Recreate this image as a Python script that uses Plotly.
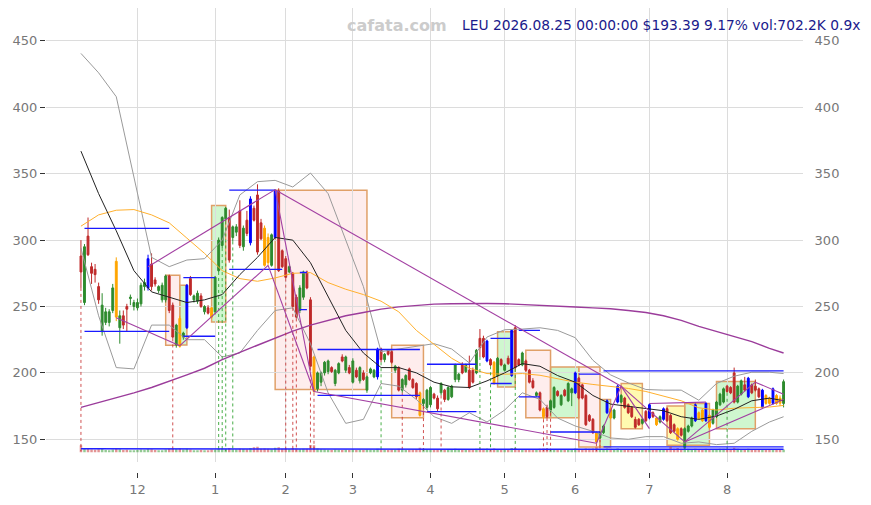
import pandas as pd
import plotly.graph_objects as go

# trading days Nov 6 2025 .. Aug 25 2026 (US market holidays removed)
holidays = ["2025-11-27", "2025-12-25", "2026-01-01", "2026-01-19", "2026-02-16",
            "2026-04-03", "2026-05-25", "2026-06-19", "2026-07-03"]
dates = [d.strftime("%Y-%m-%d") for d in pd.bdate_range("2025-11-06", "2026-08-25")
         if d.strftime("%Y-%m-%d") not in holidays]
month_labels = ["12", "1", "2", "3", "4", "5", "6", "7", "8"]

open_ = [288, 253, 303, 280, 278, 265, 231, 238, 238, 247,
         284, 234, 243, 250, 256, 250, 249, 252, 265, 264,
         282, 270, 262, 255, 255, 273, 251, 221, 241, 227,
         234, 271, 255, 254, 258, 246, 249, 249, 246, 277,
         296, 316, 317, 302, 306, 322, 295, 315, 298, 324,
         334, 313, 309, 302, 281, 302, 337, 292, 286, 276,
         275, 257, 247, 257, 276, 255, 212, 188, 193, 200,
         201, 204, 192, 200, 212, 202, 204, 193, 202, 194,
         200, 187, 200, 197, 197, 218, 210, 217, 216, 202,
         204, 187, 191, 203, 195, 192, 185, 177, 174, 176,
         184, 181, 185, 187, 180, 182, 195, 195, 206, 201,
         202, 202, 200, 226, 226, 209, 210, 208, 198, 210,
         202, 211, 198, 234, 210, 206, 209, 202, 194, 183,
         185, 173, 174, 172, 174, 186, 176, 187, 179, 185,
         185, 196, 191, 183, 168, 165, 155, 151, 155, 170,
         173, 166, 178, 178, 181, 176, 174, 165, 165, 162,
         171, 166, 170, 166, 163, 165, 173, 168, 161, 158,
         158, 144, 156, 160, 164, 170, 172, 164, 168, 162,
         167, 176, 178, 190, 189, 200, 178, 184, 191, 182,
         191, 190, 188, 174, 183, 181, 177, 183, 181, 177]
high = [300, 297, 317, 283, 282, 268, 260, 249, 248, 267,
        287, 247, 247, 252, 259, 255, 256, 268, 271, 289,
        290, 272, 266, 268, 274, 274, 253, 237, 243, 231,
        267, 273, 259, 262, 260, 251, 251, 250, 273, 302,
        318, 325, 323, 311, 312, 330, 311, 322, 333, 326,
        342, 316, 311, 305, 305, 338, 339, 293, 288, 281,
        276, 259, 266, 277, 277, 257, 213, 201, 201, 209,
        210, 205, 203, 208, 214, 213, 206, 211, 204, 205,
        202, 198, 204, 203, 219, 219, 215, 218, 217, 206,
        205, 196, 199, 204, 196, 193, 186, 181, 188, 190,
        185, 183, 193, 188, 190, 191, 207, 200, 208, 207,
        213, 204, 218, 233, 228, 225, 211, 209, 212, 211,
        207, 213, 233, 236, 211, 216, 210, 203, 196, 186,
        186, 174, 176, 180, 190, 187, 184, 188, 193, 189,
        201, 197, 192, 184, 169, 166, 156, 156, 161, 180,
        174, 173, 191, 184, 182, 177, 175, 167, 166, 166,
        172, 177, 171, 167, 168, 174, 174, 169, 162, 159,
        159, 159, 161, 167, 177, 171, 173, 178, 169, 173,
        179, 185, 189, 191, 190, 204, 191, 195, 197, 197,
        192, 195, 189, 188, 184, 182, 189, 184, 183, 195]
low = [264, 251, 288, 267, 268, 252, 228, 236, 235, 245,
       239, 222, 233, 231, 251, 247, 247, 250, 262, 262,
       262, 265, 260, 253, 253, 245, 226, 219, 219, 225,
       233, 258, 253, 252, 249, 244, 244, 241, 244, 276,
       294, 314, 283, 299, 303, 294, 292, 303, 296, 314,
       289, 300, 280, 281, 280, 301, 276, 279, 271, 275,
       249, 241, 245, 255, 263, 204, 185, 186, 190, 198,
       199, 200, 190, 199, 208, 200, 199, 192, 196, 192,
       194, 185, 199, 196, 195, 208, 208, 213, 207, 200,
       186, 185, 189, 194, 188, 180, 167, 175, 172, 174,
       180, 171, 183, 178, 179, 181, 193, 193, 199, 200,
       188, 192, 199, 212, 211, 208, 205, 191, 197, 205,
       201, 206, 197, 203, 205, 205, 201, 192, 188, 182,
       171, 165, 166, 170, 173, 182, 175, 182, 178, 175,
       184, 180, 180, 160, 163, 154, 147, 150, 154, 169,
       165, 165, 177, 177, 173, 169, 166, 158, 160, 161,
       163, 165, 166, 160, 162, 164, 163, 154, 155, 149,
       152, 142, 155, 159, 163, 165, 163, 163, 158, 161,
       166, 175, 177, 185, 184, 177, 177, 183, 186, 181,
       184, 186, 181, 173, 176, 176, 176, 176, 175, 174]
close = [276, 295, 289, 275, 274, 255, 251, 246, 246, 264,
         242, 243, 236, 248, 257, 253, 253, 266, 268, 286,
         265, 267, 265, 266, 273, 247, 227, 236, 220, 230,
         266, 259, 258, 260, 250, 250, 245, 242, 272, 300,
         317, 324, 285, 310, 310, 296, 309, 305, 331, 315,
         291, 301, 281, 283, 304, 337, 277, 280, 272, 280,
         250, 242, 264, 276, 264, 205, 186, 200, 200, 208,
         209, 201, 202, 207, 209, 212, 200, 209, 197, 204,
         195, 197, 203, 202, 218, 210, 214, 214, 208, 205,
         187, 195, 198, 195, 189, 182, 168, 180, 187, 189,
         181, 173, 192, 180, 189, 190, 206, 199, 200, 206,
         189, 193, 217, 219, 212, 224, 206, 192, 211, 206,
         206, 207, 232, 204, 206, 215, 202, 193, 189, 185,
         172, 167, 167, 179, 189, 183, 183, 183, 192, 188,
         200, 181, 181, 161, 164, 155, 148, 155, 160, 179,
         166, 172, 190, 183, 174, 170, 167, 159, 161, 165,
         164, 176, 167, 161, 167, 173, 164, 155, 156, 150,
         153, 158, 160, 166, 176, 166, 164, 177, 159, 172,
         178, 184, 188, 186, 185, 178, 190, 194, 187, 196,
         185, 187, 182, 187, 177, 177, 188, 177, 177.14, 193.39]
# r/g plain candle, b = blue signal candle, o = orange signal candle
kind = "".join([
    "rgrrrrgggg", "ogrrgggggb", "rrgggrrgog", "brggrgrogg", "ggrggrgrbr",
    "rroogbrrrg", "rrggrroggg", "grggrgrgrg", "rgggbrgrrg", "rggrrroggg",
    "rrgrggggrg", "rrgrrbrogr", "grbrrgrrrg", "rorggrgrgg", "brrrrroggb",
    "ogbgrrrrrg", "rbrogbrrro", "rgggboobog", "gggrrrggrb", "rrrbooboog",
])
volume = [1800, 1100, 900, 700, 650, 800, 900, 600, 550, 700,
          1000, 800, 600, 650, 500, 550, 600, 700, 650, 900,
          800, 600, 500, 550, 700, 900, 1000, 850, 950, 700,
          900, 700, 550, 500, 600, 550, 500, 700, 650, 900,
          1000, 900, 1100, 800, 750, 900, 850, 800, 1100, 1300,
          1400, 900, 1000, 900, 800, 1200, 1300, 900, 1000, 800,
          1100, 1000, 800, 900, 900, 1900, 1800, 1000, 800, 700,
          650, 600, 700, 650, 600, 650, 600, 700, 600, 650,
          600, 700, 650, 600, 900, 800, 650, 600, 700, 650,
          900, 700, 600, 650, 700, 800, 1200, 900, 800, 750,
          700, 800, 750, 650, 700, 650, 900, 700, 650, 700,
          800, 700, 900, 1000, 900, 950, 800, 1000, 800, 700,
          650, 700, 1100, 1100, 800, 700, 750, 800, 800, 700,
          900, 1000, 900, 800, 850, 700, 700, 700, 800, 750,
          1000, 900, 800, 1000, 900, 1000, 1300, 900, 800, 1000,
          900, 800, 1000, 800, 750, 700, 700, 800, 750, 700,
          750, 800, 700, 800, 700, 800, 800, 1400, 900, 1100,
          900, 1300, 900, 800, 900, 800, 800, 900, 800, 800,
          850, 900, 900, 800, 800, 1200, 900, 850, 800, 900,
          800, 800, 750, 850, 800, 800, 850, 750, 800, 702.2]

# indicator lines, read every 5th session
line_idx = list(range(0, 200, 5)) + [199]
ma_fast = [367, 335, 307, 277, 261, 257, 253, 255, 259, 274, 287, 302, 300, 283, 257,
           232, 215, 204, 204, 200, 193, 189.5, 189, 194, 200, 207, 205, 198, 193, 183,
           176.5, 175, 173.4, 171.5, 167, 165, 167.5, 172.5, 179, 181, 179]
ma_mid = [310.5, 319, 322.5, 323, 319, 313, 301.5, 290, 277, 271, 269, 271.5, 275, 275.5,
          268, 263, 259, 254, 246, 232, 221.5, 211, 203.5, 199.5, 199, 199.5, 198.2,
          195.5, 193, 191.3, 189.6, 188.3, 186, 182.5, 179, 173.7, 172, 173.4, 174, 174.3, 175.5]
ma_slow = [174, 177.5, 181, 185, 189, 193.5, 198.5, 203.5, 210, 215.5, 221, 226.5, 231.5,
           236, 239.7, 243, 245.5, 248, 249.7, 251, 251.8, 252.1, 252.3, 252.3, 252.1,
           251.6, 251, 250.3, 249.6, 249, 248.3, 247, 245.5, 243, 239.5, 235, 231, 227.5,
           223.5, 218.5, 215]
band_up = [440.6, 426, 408, 348, 287, 280, 285, 286, 300, 334, 344, 345, 340, 350.5, 335,
           300, 265, 216, 218, 220, 222, 218, 207.5, 227, 232.5, 233, 234, 232, 226.5,
           209.5, 198.5, 192.5, 187.5, 187, 187, 179.4, 192, 197.5, 200.5, 200.5, 199.5]
band_lo = [294, 243, 204, 203, 236, 236, 225, 225, 212, 215, 232, 247, 249, 222, 185, 162,
           165, 192, 190, 180, 167, 162, 170, 163, 172, 185, 180, 166, 160, 156, 151, 150,
           152, 152, 147, 148, 146, 147, 156, 163, 167]
vol_avg = [900, 880, 860, 850, 840, 830, 820, 810, 800, 810, 820, 830, 840, 860, 870, 860,
           840, 820, 800, 790, 780, 770, 760, 760, 770, 780, 790, 800, 810, 820, 830, 820,
           810, 800, 790, 780, 780, 780, 780, 780, 780]

# consolidation boxes
box_start = [24, 28, 37, 55, 88, 118, 126, 133, 141, 147, 153, 166, 171, 180]
box_end = [28, 30, 41, 81, 97, 123, 133, 141, 147, 150, 159, 171, 178, 191]
box_top = [273.5, 266, 326, 337.6, 220.8, 231, 217, 204.5, 204.5, 180, 192, 175, 177, 193.5]
box_bottom = [220.8, 221, 238.4, 187.5, 166.3, 189.4, 166.3, 166.3, 144.2, 144.2, 158, 145.5, 145.5, 158]
box_kind = ["down", "up", "up", "down", "down", "up", "down", "up", "down", "up",
            "flat", "flat", "up", "up"]

# support / resistance segments
level_start = [1, 1, 29, 29, 42, 42, 62, 62, 67, 67, 98, 98, 116, 116, 124, 124, 141, 133, 148, 148]
level_end = [25, 25, 38, 38, 55, 57, 64, 64, 96, 96, 112, 112, 122, 122, 130, 130, 147, 147, 199, 199]
level_price = [308.8, 231.2, 271.8, 227.6, 337.6, 278, 275.6, 247.7, 217.6, 183, 206.5, 170.8,
               226, 192, 232, 182, 199, 155.5, 201.5, 144.3]

# trend lines
trend_i0 = [10, 28, 53, 55, 66, 19, 55, 146, 153, 153, 161, 171, 171, 191]
trend_p0 = [241.5, 220.5, 281, 338, 186, 280, 338, 147, 190, 190, 177, 148, 148, 193]
trend_i1 = [28, 53, 66, 66, 146, 55, 153, 153, 171, 161, 177, 191, 199, 199]
trend_p1 = [220.5, 281, 186, 186, 147, 338, 190, 190, 148, 158, 178, 193, 180, 184]

# signal markers
sell_marks = [0, 26, 58, 60, 61, 65, 66, 91, 97, 102, 131, 132, 133, 146, 147]
buy_marks = [39, 40, 41, 43, 85, 113, 116, 123, 183]

GREEN = "#2e8b2e"
RED = "#bf2a2a"
FONT = "DejaVu Sans"
n = len(open_)
dates = dates[:n]

fig = go.Figure()

lx = [dates[i] for i in line_idx]
fig.add_trace(go.Scatter(x=lx, y=band_up, mode="lines", line=dict(color="#9a9a9a", width=1)))
fig.add_trace(go.Scatter(x=lx, y=band_lo, mode="lines", line=dict(color="#9a9a9a", width=1)))
fig.add_trace(go.Scatter(x=lx, y=ma_slow, mode="lines", line=dict(color="#9b3c9b", width=1.4)))
fig.add_trace(go.Scatter(x=lx, y=ma_mid, mode="lines", line=dict(color="#ffb02e", width=1)))
fig.add_trace(go.Scatter(x=lx, y=ma_fast, mode="lines", line=dict(color="#222222", width=1)))

# volume at the very bottom
vol_colors = ["rgba(40,150,40,0.5)" if c >= o else "rgba(200,40,40,0.5)"
              for o, c in zip(open_, close)]
fig.add_trace(go.Bar(x=dates, y=volume, marker=dict(color=vol_colors, line=dict(width=0)),
                     yaxis="y2"))
fig.add_trace(go.Scatter(x=lx, y=vol_avg, mode="lines", line=dict(color="#2020ff", width=1.5),
                         yaxis="y2"))

# dotted signal lines
for marks, col in [(sell_marks, "rgba(200,50,50,0.85)"), (buy_marks, "rgba(40,160,40,0.85)")]:
    xs, ys = [], []
    for i in marks:
        xs += [dates[i], dates[i], None]
        ys += [low[i], 141, None]
    fig.add_trace(go.Scatter(x=xs, y=ys, mode="lines", line=dict(color=col, width=1, dash="dot")))

# candles
for flag, inc, dec in [("rg", GREEN, RED), ("b", "#0000ff", "#0000ff"), ("o", "#ffa500", "#ffa500")]:
    idx = [i for i in range(n) if kind[i] in flag]
    fig.add_trace(go.Candlestick(
        x=[dates[i] for i in idx], open=[open_[i] for i in idx], high=[high[i] for i in idx],
        low=[low[i] for i in idx], close=[close[i] for i in idx], whiskerwidth=0,
        increasing=dict(line=dict(color=inc, width=1), fillcolor=inc),
        decreasing=dict(line=dict(color=dec, width=1), fillcolor=dec)))

# levels and trend lines on top
xs, ys = [], []
for a, b, p in zip(level_start, level_end, level_price):
    xs += [dates[a], dates[b], None]
    ys += [p, p, None]
fig.add_trace(go.Scatter(x=xs, y=ys, mode="lines", line=dict(color="#1a1aff", width=1.3)))
xs, ys = [], []
for a, pa, b, pb in zip(trend_i0, trend_p0, trend_i1, trend_p1):
    xs += [dates[a], dates[b], None]
    ys += [pa, pb, None]
fig.add_trace(go.Scatter(x=xs, y=ys, mode="lines", line=dict(color="#a23fa2", width=1.1)))

fills = {"down": "rgba(250,190,190,0.28)", "up": "rgba(110,230,110,0.33)",
         "flat": "rgba(255,245,80,0.45)"}
for a, b, t, bt, k in zip(box_start, box_end, box_top, box_bottom, box_kind):
    fig.add_shape(type="rect", xref="x", yref="y", x0=dates[a], x1=dates[b], y0=bt, y1=t,
                  fillcolor=fills[k], line=dict(color="#e0a068", width=1.5), layer="below")

month_ticks = [dates[i] for i in range(1, n) if dates[i][5:7] != dates[i - 1][5:7]]

# the page adds an 8px body margin, so the figure is placed 8px in from the corner
yticks = [150, 200, 250, 300, 350, 400, 450]
yrange = [132.7, 474.8]
fig.update_layout(
    width=871, height=505, margin=dict(l=38, r=76, t=0, b=41),
    paper_bgcolor="white", plot_bgcolor="white", showlegend=False,
    boxgap=0.25, bargap=0.3, font=dict(family=FONT),
    xaxis=dict(type="category", categoryorder="array", categoryarray=dates,
               range=[-9.9, 204.5], anchor="free", position=0, automargin=False,
               tickvals=month_ticks, ticktext=month_labels, showgrid=True, gridcolor="#dcdcdc",
               ticks="outside", ticklen=5, tickcolor="#333", zeroline=False,
               tickfont=dict(size=13, color="#777", family=FONT), rangeslider=dict(visible=False)),
    yaxis=dict(domain=[0.021, 1], range=yrange, tickvals=yticks, gridcolor="#dcdcdc",
               ticks="outside", ticklen=5, tickcolor="#333", zeroline=False, automargin=False,
               tickfont=dict(size=13, color="#777", family=FONT)),
    yaxis2=dict(domain=[0.021, 1], overlaying="y", range=[-2600, 115400], visible=False),
    yaxis3=dict(domain=[0.021, 1], overlaying="y", side="right", range=yrange, tickvals=yticks,
                showgrid=False, zeroline=False, ticks="outside", ticklen=8, automargin=False,
                tickcolor="rgba(0,0,0,0)", tickfont=dict(size=13, color="#777", family=FONT)),
)
# invisible point so the right axis is drawn
fig.add_trace(go.Scatter(x=[dates[0]], y=[yrange[0] - 10], yaxis="y3", mode="markers",
                         marker=dict(opacity=0)))

fig.add_annotation(text="<b>cafata.com</b>", xref="paper", yref="paper", x=0.4637, y=0.963,
                   xanchor="center", yanchor="middle", showarrow=False,
                   font=dict(size=16, color="#cccccc", family=FONT))
fig.add_annotation(text="LEU 2026.08.25 00:00:00 $193.39 9.17% vol:702.2K 0.9x",
                   xref="paper", yref="paper", x=1.078, y=0.963, xanchor="right",
                   yanchor="middle", showarrow=False,
                   font=dict(size=13.8, color="#1a1a8c", family=FONT))

fig.write_html("out.html")
